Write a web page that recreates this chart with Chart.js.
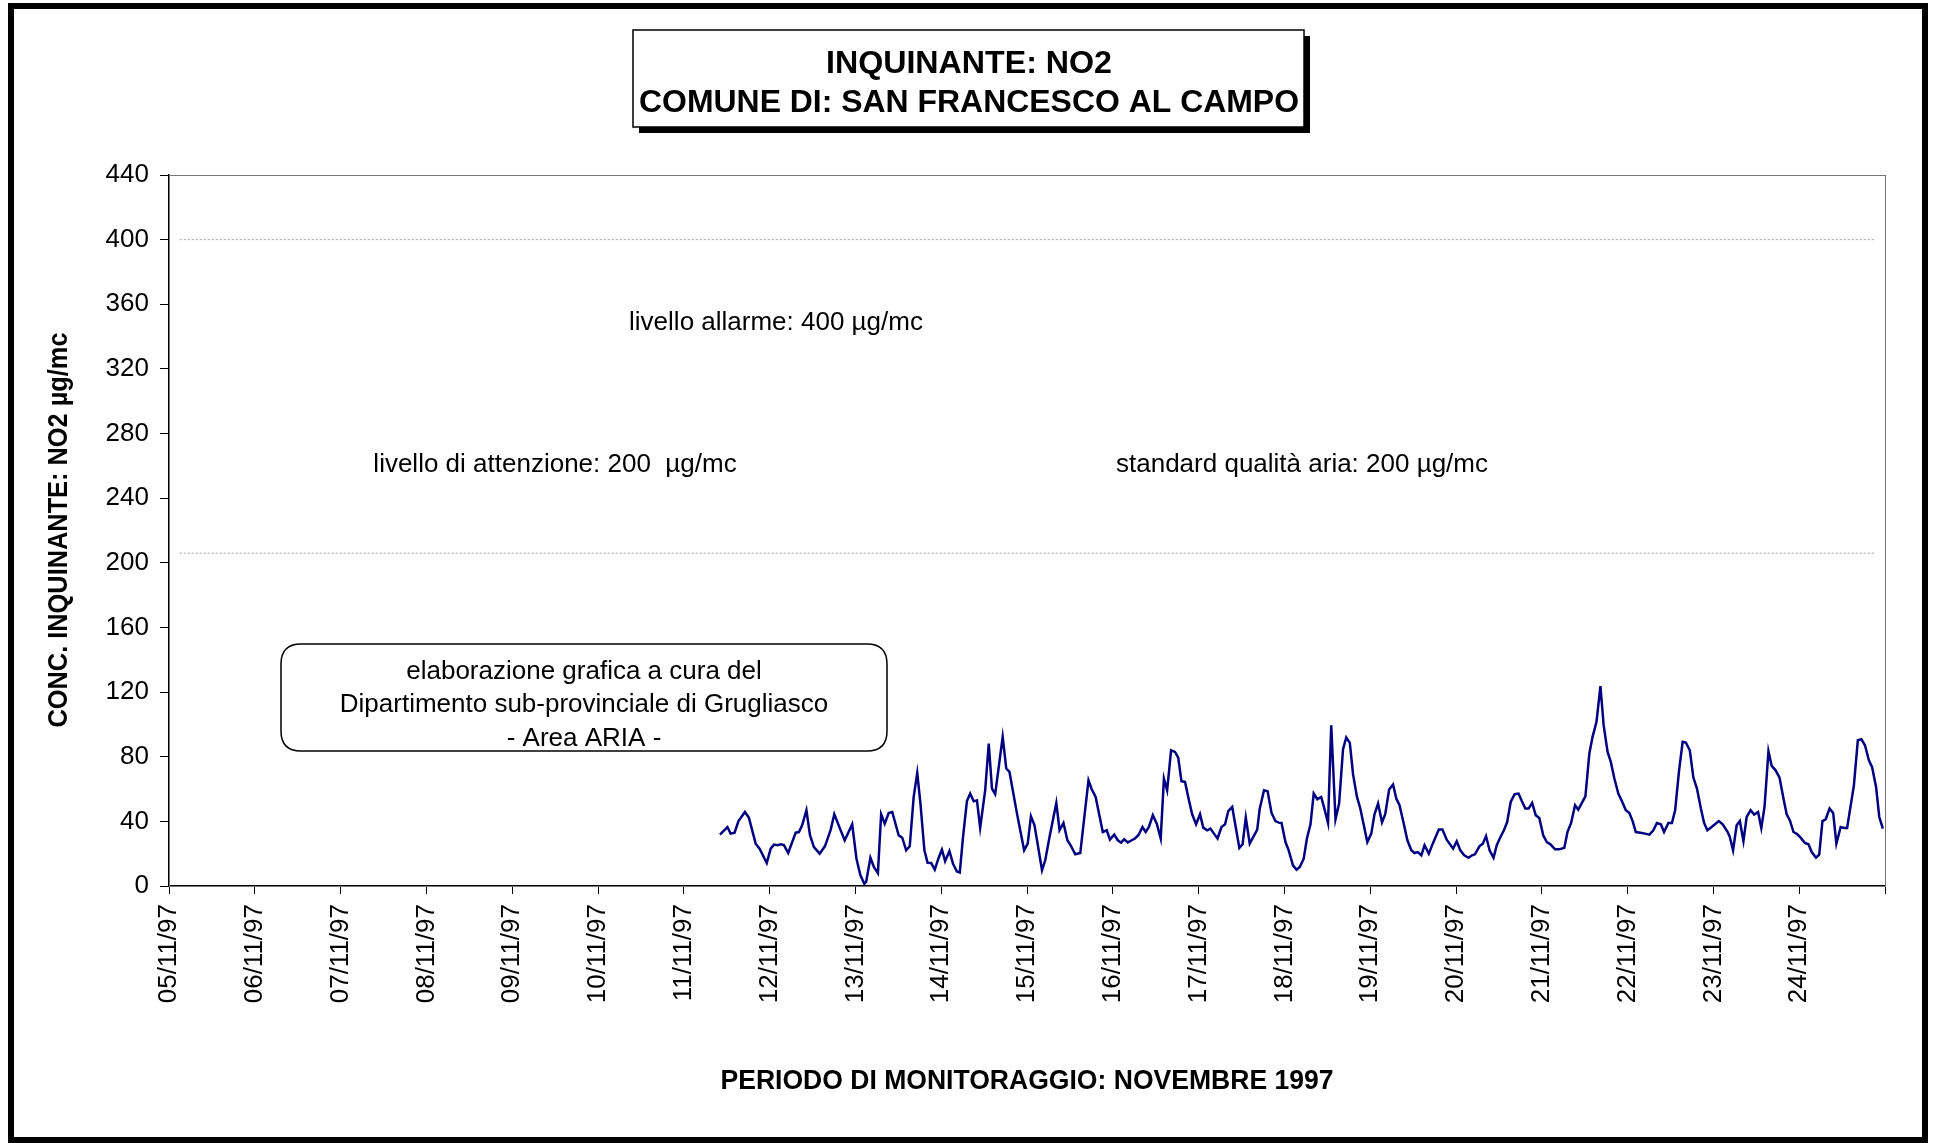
<!DOCTYPE html>
<html>
<head>
<meta charset="utf-8">
<script src="https://cdn.jsdelivr.net/npm/chart.js@4.4.1/dist/chart.umd.min.js"></script>
<style>
  html, body { margin: 0; padding: 0; background: #fff; }
  #wrap { width: 1934px; height: 1143px; position: relative; }
</style>
</head>
<body>
<div id="wrap"><canvas id="no2Chart" width="1934" height="1143"></canvas></div>
<script>
// day labels on the x axis (one tick every 24 hours from 05/11/97 00:00)
const dayLabels = [
  "05/11/97", "06/11/97", "07/11/97", "08/11/97", "09/11/97",
  "10/11/97", "11/11/97", "12/11/97", "13/11/97", "14/11/97",
  "15/11/97", "16/11/97", "17/11/97", "18/11/97", "19/11/97",
  "20/11/97", "21/11/97", "22/11/97", "23/11/97", "24/11/97",
];

// hours since 05/11/97 00:00
const hours = [
  154.1, 156.2, 157.1, 158.2, 159.3, 161.1, 162.2, 164.1, 165.2, 167.2,
  168.3, 169.2, 170.2, 171.1, 172.0, 173.2, 175.3, 176.2, 177.1, 178.3,
  179.3, 180.4, 182.0, 183.5, 185.1, 186.1, 187.8, 189.0, 190.0, 191.1,
  192.3, 193.4, 194.5, 195.0, 196.2, 197.2, 198.3, 199.2, 200.2, 201.3,
  202.3, 204.1, 205.1, 206.2, 207.2, 208.3, 209.3, 210.2, 211.3, 212.2,
  213.2, 214.2, 215.3, 216.2, 217.1, 218.3, 219.3, 220.4, 221.2, 222.1,
  223.2, 224.1, 225.1, 226.0, 226.9, 228.3, 229.3, 230.2, 231.1, 233.2,
  234.2, 235.1, 237.2, 239.2, 240.2, 241.1, 242.1, 244.2, 245.1, 246.3,
  248.2, 249.1, 250.2, 251.3, 252.2, 253.5, 254.9, 257.2, 258.1, 259.2,
  261.2, 262.3, 263.2, 264.4, 265.4, 266.3, 267.2, 268.2, 269.3, 270.2,
  271.2, 272.3, 273.2, 274.1, 275.2, 276.3, 277.4, 278.3, 279.2, 280.3,
  281.4, 282.3, 283.2, 284.2, 285.3, 286.2, 287.3, 288.4, 289.3, 290.4,
  291.3, 292.3, 293.3, 294.4, 295.4, 296.3, 297.4, 299.4, 300.3, 301.2,
  302.3, 304.4, 305.1, 306.3, 307.3, 308.4, 309.5, 310.4, 311.2, 312.3,
  313.2, 314.4, 315.4, 316.3, 317.4, 318.3, 319.3, 320.2, 321.2, 322.3,
  323.3, 324.2, 325.1, 326.3, 327.3, 328.4, 329.3, 330.3, 331.2, 332.3,
  333.2, 335.2, 336.3, 337.2, 338.2, 339.3, 340.2, 341.3, 342.4, 343.3,
  344.2, 345.3, 346.4, 347.5, 348.4, 349.3, 350.3, 351.2, 352.4, 353.5,
  355.2, 356.2, 357.4, 359.2, 360.2, 361.2, 362.3, 363.5, 364.5, 365.3,
  366.6, 367.5, 368.4, 369.4, 370.5, 371.4, 372.3, 373.4, 374.3, 375.3,
  376.4, 377.5, 378.4, 379.4, 380.3, 381.3, 382.3, 383.3, 384.4, 385.4,
  386.4, 387.7, 388.9, 390.3, 391.2, 392.2, 393.3, 394.2, 395.1, 396.2,
  397.3, 398.2, 399.3, 400.4, 401.3, 402.4, 403.3, 404.3, 405.4, 406.3,
  407.5, 408.5, 409.4, 410.3, 411.6, 412.9, 414.1, 415.2, 416.2, 417.3,
  418.2, 419.4, 420.4, 421.3, 422.4, 423.4, 424.3, 425.4, 426.4, 427.4,
  428.5, 429.4, 430.3, 431.5, 433.5, 434.6, 436.0, 436.6, 437.5, 438.5,
  439.4, 440.4, 441.3, 442.4, 443.4, 444.5, 445.4, 446.3, 447.4, 448.3,
  449.4, 450.5, 451.6, 452.5, 453.4, 454.4, 455.5, 456.4, 457.6, 458.6,
  459.5, 460.7, 461.6, 462.5, 463.4, 464.5, 465.5, 466.4, 467.6, 468.6,
  469.4, 471.3, 472.4, 473.4, 474.4, 475.5, 476.4, 477.5, 478.4, 479.4,
];

// NO2 concentration, µg/mc
const no2 = [
  31.8, 36.5, 32.4, 33.0, 40.2, 45.8, 42.3, 26.2, 23.1, 14.2,
  23.1, 25.6, 25.2, 25.8, 25.3, 20.4, 33.0, 33.4, 37.6, 46.9,
  31.4, 24.1, 20.0, 24.7, 34.9, 44.4, 34.9, 28.3, 33.0, 38.2,
  16.9, 6.6, 1.4, 2.5, 17.5, 11.7, 8.0, 44.4, 38.6, 45.2,
  45.8, 31.4, 29.9, 22.1, 24.6, 55.1, 70.0, 51.0, 22.1, 14.4,
  14.2, 10.1, 17.5, 22.5, 15.4, 21.7, 13.8, 9.0, 8.3, 30.3,
  52.6, 57.2, 52.4, 53.0, 36.1, 59.2, 88.2, 60.3, 56.8, 92.3,
  72.7, 70.6, 44.8, 22.1, 26.2, 43.1, 37.6, 9.7, 15.9, 30.3,
  51.4, 34.5, 39.0, 28.3, 25.2, 19.6, 20.4, 65.4, 59.9, 55.1,
  33.4, 34.5, 28.7, 31.8, 28.3, 26.8, 28.9, 27.0, 28.3, 29.4,
  31.6, 36.5, 33.4, 36.5, 43.8, 38.6, 29.4, 66.5, 59.2, 84.0,
  83.0, 79.5, 64.8, 64.4, 53.0, 44.4, 38.2, 44.4, 36.1, 34.5,
  35.5, 32.4, 29.4, 36.5, 38.2, 46.4, 48.9, 23.5, 25.8, 42.3,
  26.2, 34.9, 47.9, 59.2, 58.6, 45.2, 40.2, 39.2, 39.0, 27.2,
  22.1, 12.8, 10.1, 11.8, 16.9, 29.4, 38.2, 57.2, 53.7, 55.1,
  46.9, 39.0, 99.5, 41.3, 51.0, 84.7, 91.9, 88.6, 69.2, 55.1,
  48.3, 27.2, 32.4, 44.4, 51.0, 39.4, 44.4, 59.7, 62.8, 54.1,
  50.0, 39.4, 28.3, 22.1, 20.4, 21.0, 19.0, 25.2, 20.0, 26.2,
  34.9, 34.9, 28.7, 23.1, 27.6, 22.1, 19.0, 17.5, 19.0, 19.6,
  24.7, 26.2, 30.9, 22.1, 17.5, 25.2, 29.7, 34.5, 39.4, 52.0,
  56.8, 57.2, 52.6, 47.9, 47.9, 51.4, 43.8, 42.1, 31.4, 27.2,
  25.8, 22.7, 22.7, 23.7, 33.5, 39.0, 50.0, 47.3, 51.0, 55.5,
  82.0, 92.3, 101.6, 123.7, 99.5, 83.0, 76.8, 66.5, 57.2, 53.0,
  46.9, 45.2, 40.2, 33.4, 33.0, 32.4, 31.8, 34.5, 39.0, 38.2,
  33.4, 39.0, 39.0, 46.9, 71.6, 89.2, 88.8, 84.0, 67.1, 60.3,
  47.9, 39.0, 34.5, 36.5, 40.2, 38.2, 33.4, 30.3, 22.1, 37.6,
  40.2, 27.8, 42.7, 46.9, 44.2, 45.8, 35.9, 48.9, 83.4, 74.3,
  71.6, 67.1, 54.1, 44.4, 40.6, 33.4, 32.0, 29.9, 26.6, 25.8,
  21.0, 17.5, 19.4, 40.2, 41.3, 47.9, 45.2, 26.2, 36.5, 35.9,
  35.9, 62.3, 90.2, 90.8, 87.1, 77.8, 73.5, 61.3, 42.7, 35.5,
];

// reference lines (dotted): alarm level and attention level
const limitHours = [3, 477];
const alarmLine = [400, 400];
const attentionLine = [206, 206];

const yTicks = [0, 40, 80, 120, 160, 200, 240, 280, 320, 360, 400, 440];

const SANS = "'Liberation Sans', Arial, sans-serif";

const series = hours.map((h, i) => ({ x: h, y: no2[i] }));

// bold text fitted to a given width (the original uses a narrow face)
function narrowText(c, text, x, y, width, size) {
  c.save();
  c.font = "bold " + size + "px " + SANS;
  const w = c.measureText(text).width;
  c.translate(x, y);
  c.scale(width / w, 1);
  c.fillText(text, 0, 0);
  c.restore();
}

// frame, title box, notes and axis titles
const decorPlugin = {
  id: "decor",
  afterDraw(chart) {
    const c = chart.ctx;
    const a = chart.chartArea;
    c.save();

    // plot frame (top/right)
    c.strokeStyle = "#777";
    c.lineWidth = 1;
    c.strokeRect(a.left + 0.5, a.top + 0.5, a.right - a.left, a.bottom - a.top);

    // outer border
    c.strokeStyle = "#000";
    c.lineWidth = 6;
    c.strokeRect(11, 6, 1914, 1134);

    // title box with shadow
    c.fillStyle = "#000";
    c.fillRect(639, 36, 671, 97);
    c.fillStyle = "#fff";
    c.fillRect(633, 30, 671, 97);
    c.strokeStyle = "#000";
    c.lineWidth = 1.5;
    c.strokeRect(633, 30, 671, 97);

    c.fillStyle = "#000";
    c.textAlign = "center";
    c.textBaseline = "middle";
    narrowText(c, "INQUINANTE: NO2", 969, 64, 286, 32);
    narrowText(c, "COMUNE DI: SAN FRANCESCO AL CAMPO", 969, 103, 660, 32);

    // limit notes
    c.font = "26px " + SANS;
    c.fillText("livello allarme: 400 µg/mc", 776, 323);
    c.fillText("livello di attenzione: 200  µg/mc", 555, 465);
    c.fillText("standard qualità aria: 200 µg/mc", 1302, 465);

    // credits box
    const bx = 281, by = 644, bw = 606, bh = 107, r = 20;
    c.beginPath();
    c.moveTo(bx + r, by);
    c.lineTo(bx + bw - r, by);
    c.quadraticCurveTo(bx + bw, by, bx + bw, by + r);
    c.lineTo(bx + bw, by + bh - r);
    c.quadraticCurveTo(bx + bw, by + bh, bx + bw - r, by + bh);
    c.lineTo(bx + r, by + bh);
    c.quadraticCurveTo(bx, by + bh, bx, by + bh - r);
    c.lineTo(bx, by + r);
    c.quadraticCurveTo(bx, by, bx + r, by);
    c.closePath();
    c.fillStyle = "#fff";
    c.fill();
    c.strokeStyle = "#000";
    c.lineWidth = 1.5;
    c.stroke();
    c.fillStyle = "#000";
    c.font = "26px " + SANS;
    c.fillText("elaborazione grafica a cura del", 584, 672);
    c.fillText("Dipartimento sub-provinciale di Grugliasco", 584, 705);
    c.fillText("- Area ARIA -", 584, 739);

    // axis titles
    narrowText(c, "PERIODO DI MONITORAGGIO: NOVEMBRE 1997", 1027, 1082, 613, 27);
    c.translate(60, 530);
    c.rotate(-Math.PI / 2);
    narrowText(c, "CONC. INQUINANTE: NO2 µg/mc", 0, 0, 395, 27);

    c.restore();
  },
};

new Chart(document.getElementById("no2Chart"), {
  type: "line",
  data: {
    datasets: [
      {
        label: "NO2",
        data: series,
        borderColor: "#000080",
        borderWidth: 2.5,
        pointRadius: 0,
        tension: 0,
        order: 1,
      },
      {
        label: "allarme",
        data: limitHours.map((h, i) => ({ x: h, y: alarmLine[i] })),
        borderColor: "#a0a0a0",
        borderWidth: 1,
        borderDash: [2, 2],
        pointRadius: 0,
        order: 2,
      },
      {
        label: "attenzione",
        data: limitHours.map((h, i) => ({ x: h, y: attentionLine[i] })),
        borderColor: "#a0a0a0",
        borderWidth: 1,
        borderDash: [2, 2],
        pointRadius: 0,
        order: 2,
      },
    ],
  },
  options: {
    responsive: false,
    animation: false,
    layout: { padding: { top: 175, right: 49, left: 0, bottom: 0 } },
    plugins: { legend: { display: false }, tooltip: { enabled: false } },
    scales: {
      x: {
        type: "linear",
        min: 0,
        max: 480,
        afterFit: (s) => { s.height = 257; },
        afterBuildTicks: (s) => {
          s.ticks = dayLabels.map((_, i) => ({ value: i * 24 })).concat([{ value: 480 }]);
        },
        grid: { drawOnChartArea: false, tickLength: 8, color: "#000" },
        border: { color: "#000", width: 1.5 },
        ticks: {
          color: "#000",
          font: { family: SANS, size: 26 },
          minRotation: 90,
          maxRotation: 90,
          padding: 10,
          autoSkip: false,
          callback: (v) => dayLabels[Math.round(v / 24)] || "",
        },
      },
      y: {
        min: 0,
        max: 440,
        afterFit: (s) => { s.width = 169; },
        afterBuildTicks: (s) => { s.ticks = yTicks.map((v) => ({ value: v })); },
        grid: { drawOnChartArea: false, tickLength: 9, color: "#000" },
        border: { color: "#000", width: 1.5 },
        ticks: {
          color: "#000",
          font: { family: SANS, size: 26 },
          padding: 11,
        },
      },
    },
  },
  plugins: [decorPlugin],
});
</script>
</body>
</html>
